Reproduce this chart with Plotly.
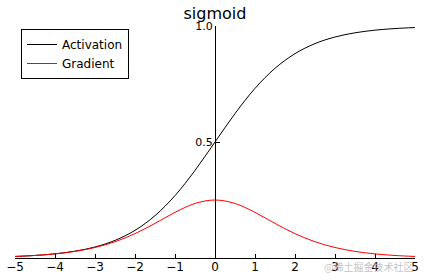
import plotly.graph_objects as go

x_vals = [-5.0, -4.5, -4.0, -3.5, -3.0, -2.5, -2.0, -1.5, -1.0, -0.5, 0.0,
          0.5, 1.0, 1.5, 2.0, 2.5, 3.0, 3.5, 4.0, 4.5, 5.0]
activation = [0.0067, 0.0110, 0.0180, 0.0293, 0.0474, 0.0759, 0.1192, 0.1824, 0.2689, 0.3775, 0.5000,
              0.6225, 0.7311, 0.8176, 0.8808, 0.9241, 0.9526, 0.9707, 0.9820, 0.9890, 0.9933]
gradient = [0.0066, 0.0109, 0.0177, 0.0285, 0.0452, 0.0701, 0.1050, 0.1491, 0.1966, 0.2350, 0.2500,
            0.2350, 0.1966, 0.1491, 0.1050, 0.0701, 0.0452, 0.0285, 0.0177, 0.0109, 0.0066]
x_ticks = [-5, -4, -3, -2, -1, 0, 1, 2, 3, 4, 5]
y_ticks = [0.5, 1.0]
y_tick_text = ["0.5", "1.0"]

font_main = "DejaVu Sans"

fig = go.Figure()
fig.add_trace(go.Scatter(x=x_vals, y=activation, mode="lines", name="Activation",
                         line=dict(color="black", width=1, shape="spline")))
fig.add_trace(go.Scatter(x=x_vals, y=gradient, mode="lines", name="Gradient",
                         line=dict(color="red", width=1, shape="spline")))

fig.update_layout(
    width=424, height=280,
    margin=dict(l=15, r=9, t=26, b=22),
    paper_bgcolor="white", plot_bgcolor="white",
    font=dict(family=font_main, size=12, color="black"),
    title=dict(text="sigmoid", x=215/424, xanchor="center", y=1 - 13/280, yanchor="middle",
               font=dict(family=font_main, size=16, color="black")),
    showlegend=True,
    legend=dict(x=6/400, y=1 - 3/232, xanchor="left", yanchor="top",
                bordercolor="black", borderwidth=1, bgcolor="white",
                font=dict(family=font_main, size=12, color="black"),
                tracegroupgap=0, itemwidth=30),
    xaxis=dict(range=[-5, 5], tickvals=x_ticks, showgrid=False, zeroline=False,
               showline=True, linecolor="black", linewidth=1, automargin=False,
               ticks="inside", ticklen=4, tickcolor="black", ticklabelstandoff=-2,
               tickfont=dict(family=font_main, size=12, color="black")),
    yaxis=dict(range=[0, 1], tickvals=y_ticks, ticktext=y_tick_text, showgrid=False, zeroline=False,
               showline=True, linecolor="black", linewidth=1, automargin=False,
               anchor="free", position=0.5,
               ticks="inside", ticklen=4, tickcolor="black",
               tickfont=dict(family=font_main, size=11, color="black")),
)

fig.add_annotation(text="@稀土掘金技术社区", xref="paper", yref="paper",
                   x=1.0, y=-8/232, xanchor="right", yanchor="middle", showarrow=False,
                   font=dict(family="Noto Sans CJK SC", size=10, color="rgba(180,180,180,0.8)"))

fig.write_html("out.html")
